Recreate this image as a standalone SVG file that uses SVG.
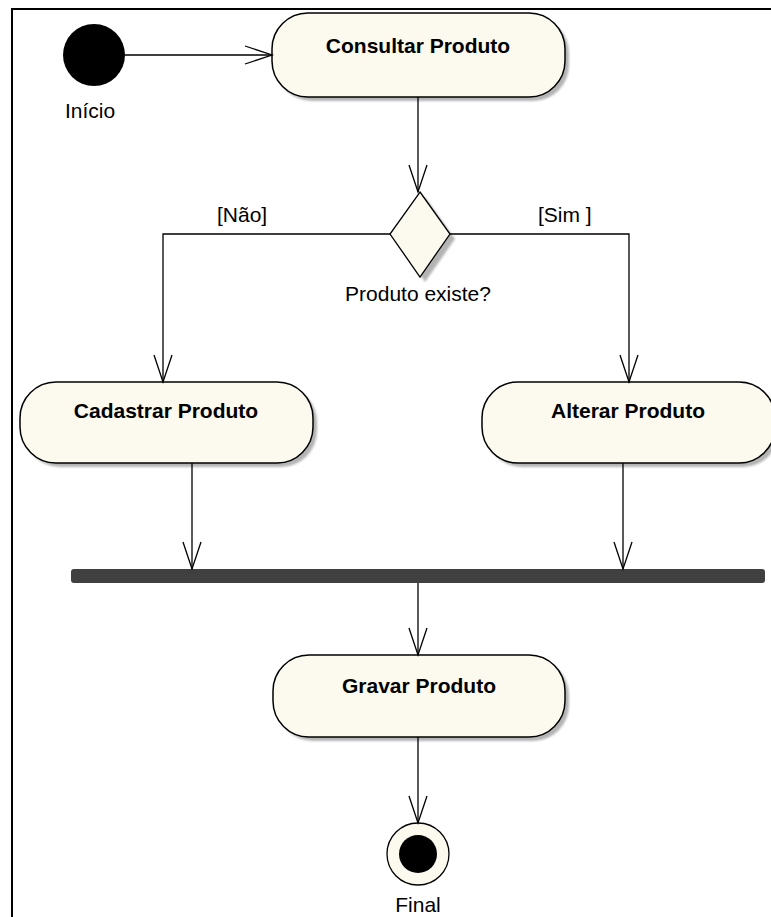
<svg xmlns="http://www.w3.org/2000/svg" width="771" height="917" viewBox="0 0 771 917">
<defs>
<marker id="open" markerUnits="userSpaceOnUse" markerWidth="40" markerHeight="24" viewBox="-30 -12 32 24" refX="0" refY="0" orient="auto">
<path d="M-27,-9 L0,0 L-27,9" fill="none" stroke="#000" stroke-width="1.3"/>
</marker>
<filter id="blur" x="-10%" y="-10%" width="120%" height="120%"><feGaussianBlur stdDeviation="1.2"/></filter>
</defs>
<style>
.box{fill:#fcf9ee;stroke:#000;stroke-width:1.5}
.shadow{fill:#b4b4b4;filter:url(#blur)}
.lbl{font-family:"Liberation Sans",Arial,sans-serif;font-size:21px;fill:#000}
.bold{font-family:"Liberation Sans",Arial,sans-serif;font-size:21px;font-weight:bold;fill:#000;text-anchor:middle}
.conn{fill:none;stroke:#000;stroke-width:1.3}
</style>
<rect width="771" height="917" fill="#fff"/>
<path d="M12,917 L12,9 L771,9" fill="none" stroke="#000" stroke-width="2"/>

<g id="inicio">
<circle cx="94" cy="55" r="31" fill="#000"/>
<text class="lbl" x="90" y="118" text-anchor="middle">Início</text>
</g>

<g id="consultar">
<rect class="shadow" x="276" y="17" width="293" height="84" rx="36"/>
<rect class="box" x="272" y="13" width="293" height="84" rx="36"/>
<text class="bold" x="418" y="53">Consultar Produto</text>
</g>

<g id="decisao">
<polygon class="shadow" points="425,197 455,239 425,282 395,239"/>
<polygon points="420,192 450,234 420,277 390,234" fill="#fcf9ee" stroke="#000" stroke-width="1.3"/>
<text class="lbl" x="418" y="301" text-anchor="middle">Produto existe?</text>
</g>

<g id="cadastrar">
<rect class="shadow" x="24" y="386" width="293" height="81" rx="36"/>
<rect class="box" x="20" y="382" width="293" height="81" rx="36"/>
<text class="bold" x="166" y="418">Cadastrar Produto</text>
</g>

<g id="alterar">
<rect class="shadow" x="486" y="386" width="293" height="81" rx="36"/>
<rect class="box" x="482" y="382" width="293" height="81" rx="36"/>
<text class="bold" x="628" y="418">Alterar Produto</text>
</g>

<g id="juncao">
<rect x="71" y="569" width="694" height="14" rx="3" fill="#404040"/>
</g>

<g id="gravar">
<rect class="shadow" x="277" y="659" width="292" height="82" rx="36"/>
<rect class="box" x="273" y="655" width="292" height="82" rx="36"/>
<text class="bold" x="419" y="693">Gravar Produto</text>
</g>

<g id="final">
<circle cx="418" cy="854" r="31" fill="#fcf9ee" stroke="#000" stroke-width="1.3"/>
<circle cx="418" cy="854" r="19" fill="#000"/>
<text class="lbl" x="418" y="912" text-anchor="middle">Final</text>
</g>

<g id="connectors">
<path class="conn" d="M125,55 L272,55" marker-end="url(#open)"/>
<path class="conn" d="M418,97 L418,192" marker-end="url(#open)"/>
<path class="conn" d="M390,234 L163,234 L163,382" marker-end="url(#open)"/>
<path class="conn" d="M450,234 L629,234 L629,382" marker-end="url(#open)"/>
<path class="conn" d="M192,463 L192,569" marker-end="url(#open)"/>
<path class="conn" d="M623,463 L623,569" marker-end="url(#open)"/>
<path class="conn" d="M418,583 L418,655" marker-end="url(#open)"/>
<path class="conn" d="M418,737 L418,823" marker-end="url(#open)"/>
<text class="lbl" x="217" y="222">[Não]</text>
<text class="lbl" x="538" y="222">[Sim ]</text>
</g>
</svg>
